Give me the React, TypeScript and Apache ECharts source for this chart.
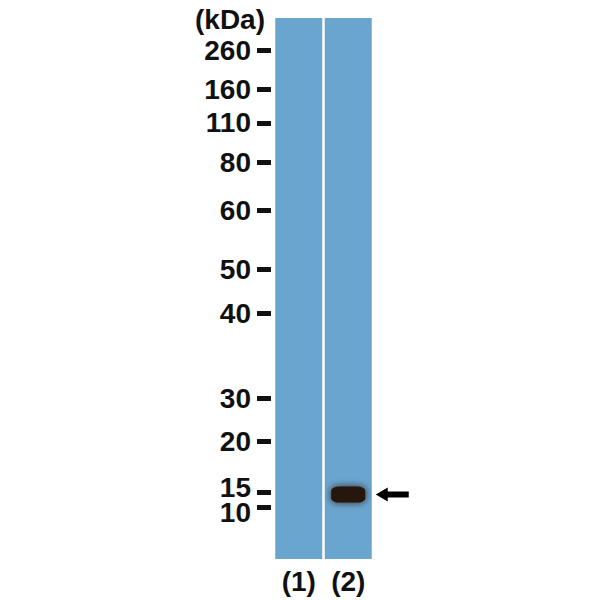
import { useEffect, useRef } from 'react'
import * as echarts from 'echarts'

// lanes of the blot
const lanes = ['(1)', '(2)']
// marker ladder: kDa labels and their migration (% of gel length from top)
const markerLabels = ['260', '160', '110', '80', '60', '50', '40', '30', '20', '15', '10']
const markerMigration = [6.0, 13.2, 19.4, 26.7, 35.5, 46.4, 54.6, 70.3, 78.2, 87.6, 90.5]
// detected band: lane index and migration
const bandLane = [1]
const bandMigration = [88.1]

const FONT = "'Liberation Sans', Arial, sans-serif"
const LANE_COLOR = '#6aa5cf'
const BAND_COLOR = '#25120e'
const ARROW_PATH = 'path://M0 7 L12 0 L12 4 L33 4 L33 10 L12 10 L12 14 Z'

export default function App() {
  const chartRef = useRef<HTMLDivElement>(null)

  useEffect(() => {
    if (!chartRef.current) return
    const chart = echarts.init(chartRef.current, undefined, { renderer: 'svg' })

    // crowded neighbours get nudged apart, like on the printed blot
    const labelFor = (v: number) => {
      const i = markerMigration.indexOf(v)
      if (i < 0) return ''
      const next = markerMigration[i + 1]
      const prev = markerMigration[i - 1]
      if (next !== undefined && next - v < 4) return `{up|${markerLabels[i]}}`
      if (prev !== undefined && v - prev < 4) return `{down|${markerLabels[i]}}`
      return markerLabels[i]
    }

    const labelText = { fontFamily: FONT, fontSize: 28, fontWeight: 'bold', color: '#111' }

    // 15 and 10 sit so close that echarts drops one of them, so the ladder
    // is split over two overlapping axes (alternate markers on each)
    const ladderAxis = (values: number[]) => ({
      type: 'value',
      inverse: true,
      min: 0,
      max: 100,
      position: 'left',
      offset: 3,
      splitLine: { show: false },
      axisLine: { show: false },
      axisTick: {
        show: true,
        length: 14,
        customValues: values,
        lineStyle: { color: '#111', width: 5 },
      },
      axisLabel: {
        margin: 20,
        hideOverlap: false,
        showMinLabel: true,
        showMaxLabel: true,
        customValues: values,
        formatter: labelFor,
        ...labelText,
        rich: {
          up: { ...labelText, padding: [0, 0, 9, 0] },
          down: { ...labelText, padding: [9, 0, 0, 0] },
        },
      },
    })

    chart.setOption({
      animation: false,
      backgroundColor: '#ffffff',
      title: {
        text: '(kDa)',
        left: 190,
        top: 0,
        textStyle: labelText,
      },
      grid: { left: 274, top: 18, width: 99, height: 541 },
      xAxis: {
        type: 'category',
        data: lanes,
        axisLine: { show: false },
        axisTick: { show: false },
        axisLabel: { margin: 8, ...labelText },
      },
      yAxis: [
        ladderAxis(markerMigration.filter((_, i) => i % 2 === 0)),
        ladderAxis(markerMigration.filter((_, i) => i % 2 === 1)),
      ],
      series: [
        {
          type: 'bar',
          data: lanes.map(() => 100),
          barWidth: 47,
          itemStyle: { color: LANE_COLOR },
          silent: true,
        },
        {
          type: 'scatter',
          data: bandLane.map((l, i) => [l, bandMigration[i]]),
          symbol: 'roundRect',
          symbolSize: [34, 16],
          itemStyle: {
            color: BAND_COLOR,
            opacity: 1,
            shadowBlur: 7,
            shadowColor: 'rgba(37,18,14,0.9)',
          },
          z: 3,
        },
        {
          type: 'scatter',
          data: bandLane.map((l, i) => [l, bandMigration[i]]),
          symbol: ARROW_PATH,
          symbolSize: [33, 14],
          symbolOffset: [44, 0],
          itemStyle: { color: '#000', opacity: 1 },
          z: 4,
        },
      ],
    })

    return () => chart.dispose()
  }, [])

  return (
    <div
      ref={chartRef}
      style={{ position: 'fixed', left: 0, top: 0, width: 600, height: 600 }}
    />
  )
}
